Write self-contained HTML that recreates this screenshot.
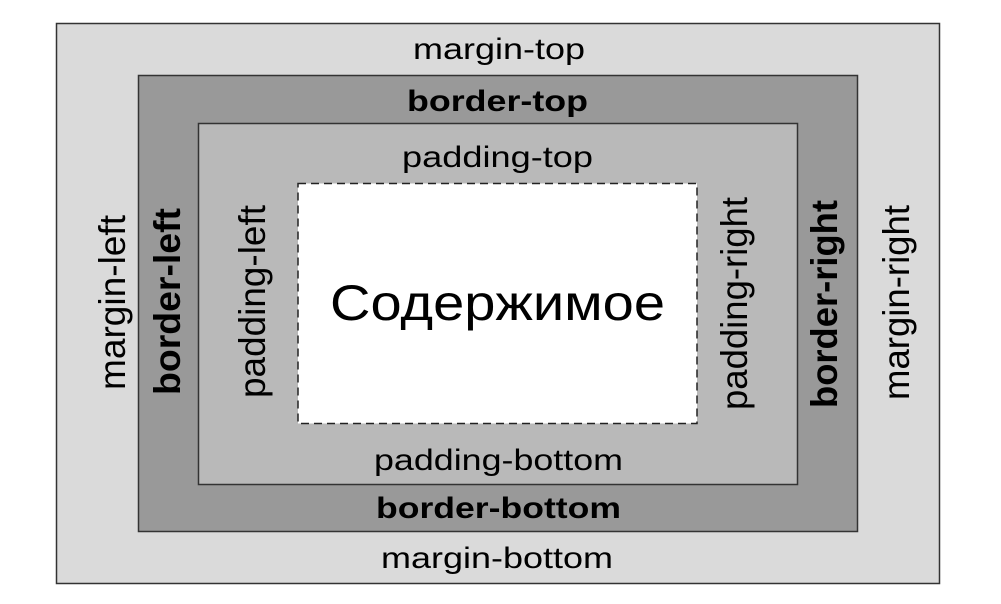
<!DOCTYPE html>
<html><head><style>body{margin:0;background:#fff}svg{display:block}</style></head><body>
<svg width="1001" height="604" viewBox="0 0 1001 604" xmlns="http://www.w3.org/2000/svg" font-family="Liberation Sans, Arial, sans-serif" fill="#000">
<rect x="56.5" y="23.5" width="883" height="560" fill="#dadada" stroke="#333" stroke-width="1.5"/>
<rect x="138.5" y="75.5" width="719" height="456" fill="#999" stroke="#333" stroke-width="1.5"/>
<rect x="198.5" y="123.5" width="599" height="361" fill="#b9b9b9" stroke="#333" stroke-width="1.5"/>
<rect x="298" y="183.5" width="399" height="240" fill="#fff" stroke="#222" stroke-width="1.5" stroke-dasharray="8,5"/>
<g font-size="30">
<text x="413" y="59" textLength="172" lengthAdjust="spacingAndGlyphs">margin-top</text>
<text x="381" y="568" textLength="232" lengthAdjust="spacingAndGlyphs">margin-bottom</text>
<text x="402" y="167" textLength="191" lengthAdjust="spacingAndGlyphs">padding-top</text>
<text x="374" y="470" textLength="249" lengthAdjust="spacingAndGlyphs">padding-bottom</text>
<text font-weight="bold" x="407" y="111" textLength="181" lengthAdjust="spacingAndGlyphs">border-top</text>
<text font-weight="bold" x="376" y="518" textLength="245" lengthAdjust="spacingAndGlyphs">border-bottom</text>
<g transform="translate(125,390) scale(1.25,1) rotate(-90)"><text textLength="175" lengthAdjust="spacingAndGlyphs">margin-left</text></g>
<g transform="translate(180,395) scale(1.25,1) rotate(-90)"><text font-weight="bold" textLength="187" lengthAdjust="spacingAndGlyphs">border-left</text></g>
<g transform="translate(265,398) scale(1.25,1) rotate(-90)"><text textLength="193" lengthAdjust="spacingAndGlyphs">padding-left</text></g>
<g transform="translate(747,410) scale(1.25,1) rotate(-90)"><text textLength="213" lengthAdjust="spacingAndGlyphs">padding-right</text></g>
<g transform="translate(837,408) scale(1.25,1) rotate(-90)"><text font-weight="bold" textLength="208" lengthAdjust="spacingAndGlyphs">border-right</text></g>
<g transform="translate(909,400) scale(1.25,1) rotate(-90)"><text textLength="195" lengthAdjust="spacingAndGlyphs">margin-right</text></g>
</g>
<text x="330" y="320" font-size="50" textLength="335" lengthAdjust="spacingAndGlyphs" font-family="Liberation Sans, DejaVu Sans, sans-serif">Содержимое</text>
</svg>
</body></html>
